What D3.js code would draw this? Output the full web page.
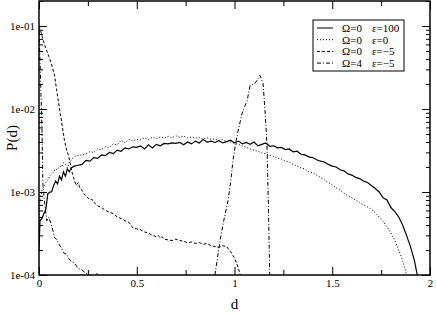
<!DOCTYPE html>
<html>
<head>
<meta charset="utf-8">
<script src="https://cdn.jsdelivr.net/npm/d3@7"></script>
<style>
  body { margin: 0; background: #fff; }
  svg { display: block; font-family: "Liberation Serif", "DejaVu Serif", serif; }
</style>
</head>
<body>
<div id="chart"></div>
<script>
// P(d) values in units of 1e-3
const solidEps100 = [
  [0,0.20],[0.005,0.45],[0.015,0.48],[0.025,0.55],[0.035,0.62],[0.045,0.95],[0.055,1.0],[0.065,1.0],
  [0.075,1.2],[0.085,1.35],[0.095,1.25],[0.105,1.55],[0.115,1.4],[0.125,1.75],[0.135,1.55],[0.145,1.9],
  [0.155,1.75],[0.165,1.95],[0.18,2.05],[0.20,2.1],[0.22,2.15],[0.24,2.4],[0.26,2.35],[0.28,2.6],
  [0.30,2.55],[0.32,2.8],[0.34,2.75],[0.36,3.0],[0.38,2.9],[0.40,3.2],[0.42,3.1],[0.44,3.4],
  [0.46,3.3],[0.48,3.5],[0.50,3.45],[0.52,3.6],[0.54,3.3],[0.56,3.7],[0.58,3.4],[0.60,3.75],
  [0.62,3.6],[0.64,3.85],[0.66,3.8],[0.68,3.9],[0.70,3.85],[0.72,3.95],[0.74,3.7],[0.76,4.0],
  [0.78,3.8],[0.80,4.1],[0.82,3.9],[0.84,4.3],[0.86,4.0],[0.88,4.1],[0.90,3.95],[0.92,4.15],
  [0.94,3.9],[0.96,4.05],[0.98,4.2],[1.00,3.9],[1.02,4.1],[1.04,3.8],[1.06,3.95],[1.08,3.75],
  [1.10,4.0],[1.12,3.6],[1.14,3.75],[1.16,3.9],[1.18,3.55],[1.20,3.6],[1.22,3.4],[1.24,3.45],
  [1.26,3.25],[1.28,3.3],[1.30,3.05],[1.32,3.1],[1.34,2.85],[1.36,2.8],[1.38,2.65],[1.40,2.6],
  [1.42,2.45],[1.44,2.35],[1.46,2.3],[1.48,2.15],[1.50,2.05],[1.52,2.0],[1.54,1.85],[1.56,1.8],
  [1.58,1.65],[1.60,1.6],[1.62,1.5],[1.64,1.45],[1.66,1.35],[1.68,1.3],[1.70,1.2],[1.72,1.1],
  [1.74,1.0],[1.76,0.85],[1.78,0.8],[1.80,0.65],[1.82,0.58],[1.84,0.5],[1.86,0.4],[1.88,0.3],
  [1.90,0.22],[1.92,0.15],[1.935,0.1]
];

const dottedEps0 = [
  [0,0.45],[0.005,0.8],[0.015,1.05],[0.025,1.15],[0.035,1.3],[0.045,1.4],[0.055,1.55],[0.065,1.65],
  [0.075,1.75],[0.085,1.9],[0.095,1.85],[0.105,2.05],[0.115,2.0],[0.125,2.25],[0.135,2.15],[0.145,1.95],
  [0.155,2.3],[0.165,2.4],[0.175,2.6],[0.185,2.7],[0.20,2.75],[0.22,2.8],[0.24,2.9],[0.26,3.05],
  [0.28,3.0],[0.30,3.3],[0.32,3.25],[0.34,3.5],[0.36,3.45],[0.38,3.8],[0.40,3.7],[0.42,4.2],
  [0.44,3.9],[0.46,4.3],[0.48,4.1],[0.50,4.3],[0.52,4.25],[0.54,4.5],[0.56,4.3],[0.58,4.55],
  [0.60,4.4],[0.62,4.6],[0.64,4.45],[0.66,4.7],[0.68,4.5],[0.70,4.75],[0.72,4.55],[0.74,4.7],
  [0.76,4.5],[0.78,4.6],[0.80,4.45],[0.82,4.55],[0.84,4.35],[0.86,4.5],[0.88,4.3],[0.90,4.35],
  [0.92,4.2],[0.94,4.25],[0.96,4.05],[0.98,4.0],[1.00,3.85],[1.02,3.75],[1.04,3.6],[1.06,3.45],
  [1.08,3.3],[1.10,3.2],[1.12,3.1],[1.14,2.95],[1.16,2.9],[1.18,2.75],[1.20,2.7],[1.22,2.55],
  [1.24,2.5],[1.26,2.35],[1.28,2.3],[1.30,2.15],[1.32,2.05],[1.34,1.95],[1.36,1.9],[1.38,1.75],
  [1.40,1.7],[1.42,1.6],[1.44,1.5],[1.46,1.4],[1.48,1.3],[1.50,1.22],[1.52,1.12],[1.54,1.05],
  [1.56,0.97],[1.58,0.9],[1.60,0.85],[1.62,0.8],[1.64,0.75],[1.66,0.7],[1.68,0.66],[1.70,0.62],
  [1.72,0.56],[1.74,0.5],[1.76,0.44],[1.78,0.38],[1.80,0.32],[1.82,0.26],[1.84,0.2],[1.86,0.15],
  [1.88,0.1]
];

const dashedEpsM5 = [
  [0,100],[0.01,85],[0.02,70],[0.03,58],[0.04,50],[0.05,43],[0.06,37],[0.07,31],[0.08,25],[0.09,17],
  [0.10,12],[0.11,8.5],[0.12,6],[0.13,4.2],[0.14,3.3],[0.15,2.8],[0.16,2.2],[0.17,1.7],[0.18,1.4],
  [0.19,1.2],[0.20,1.3],[0.21,1.1],[0.22,1.05],[0.23,0.95],[0.24,0.9],[0.25,0.85],[0.26,0.8],
  [0.27,0.82],[0.28,0.75],[0.29,0.72],[0.30,0.68],[0.32,0.65],[0.34,0.6],[0.36,0.57],[0.38,0.55],
  [0.40,0.5],[0.42,0.48],[0.44,0.45],[0.46,0.43],[0.48,0.37],[0.50,0.36],[0.52,0.35],[0.54,0.33],
  [0.56,0.32],[0.58,0.3],[0.60,0.29],[0.61,0.3],[0.62,0.28],[0.63,0.29],[0.64,0.27],[0.66,0.265],
  [0.68,0.26],[0.70,0.27],[0.72,0.26],[0.74,0.255],[0.76,0.245],[0.78,0.25],[0.80,0.24],[0.82,0.245],
  [0.84,0.235],[0.86,0.24],[0.88,0.225],[0.90,0.22],[0.92,0.215],[0.94,0.225],[0.96,0.22],[0.98,0.19],
  [1.00,0.16],[1.01,0.14],[1.02,0.12],[1.03,0.1]
];

// Omega=4: drops below the axis between the two parts (null = gap)
const dashDotOmega4 = [
  [0,90],[0.005,40],[0.01,15],[0.015,6],[0.02,1.2],[0.03,0.7],[0.04,0.45],[0.05,0.5],[0.06,0.42],
  [0.07,0.35],[0.08,0.28],[0.09,0.27],[0.10,0.24],[0.11,0.22],[0.12,0.2],[0.13,0.18],[0.14,0.18],
  [0.15,0.16],[0.16,0.15],[0.17,0.145],[0.18,0.14],[0.19,0.13],[0.20,0.12],[0.22,0.115],[0.24,0.105],
  [0.26,0.1],[0.28,0.097],[0.295,0.105],[0.30,0.1],
  [0.6,null],
  [0.90,0.1],[0.926,0.26],[0.945,0.45],[0.967,0.79],[0.98,1.3],[0.992,2.37],[1.005,3.8],[1.018,5.4],
  [1.038,8.7],[1.05,10.5],[1.064,12.4],[1.079,18.8],[1.09,19.5],[1.105,20.4],[1.12,23],[1.13,25.5],
  [1.146,20.4],[1.156,9.5],[1.166,3.8],[1.17,1.5],[1.174,0.6],[1.177,0.25],[1.18,0.1]
];

const xMajor = [0, 0.5, 1, 1.5, 2];
const xMinor = [0.25, 0.75, 1.25, 1.75];
const yMajor = [1e-4, 1e-3, 1e-2, 1e-1];

const legendRows = [
  { omega: 'Ω=0', eps: 'ε=100', dash: null },
  { omega: 'Ω=0', eps: 'ε=0', dash: '1,2' },
  { omega: 'Ω=0', eps: 'ε=−5', dash: '3,2' },
  { omega: 'Ω=4', eps: 'ε=−5', dash: '4,2,1,2' }
];

const width = 436, height = 314;
const pLeft = 39, pRight = 430, pTop = 1, pBottom = 275;

const svg = d3.select('#chart').append('svg')
  .attr('width', width).attr('height', height);

const x = d3.scaleLinear().domain([0, 2]).range([pLeft, pRight]);
const y = d3.scaleLog().domain([1e-4, 0.2]).range([pBottom, pTop]);

const yMinor = [];
for (let e = -4; e <= -1; e++) {
  for (let k = 2; k <= 9; k++) {
    const v = k * Math.pow(10, e);
    if (v <= 0.2) yMinor.push(v);
  }
}

const fmtY = d => '1e-0' + Math.round(-Math.log10(d));

// clip
svg.append('clipPath').attr('id', 'plot-clip')
  .append('rect').attr('x', pLeft).attr('y', pTop)
  .attr('width', pRight - pLeft).attr('height', pBottom - pTop);

const series = [
  { data: solidEps100, dash: null, w: 1.2 },
  { data: dottedEps0, dash: '1,2', w: 1 },
  { data: dashedEpsM5, dash: '3,2', w: 1 },
  { data: dashDotOmega4, dash: '4,2,1,2', w: 1 }
];

const line = d3.line()
  .defined(d => d[1] != null)
  .x(d => x(d[0]))
  .y(d => y(d[1] * 1e-3));

svg.append('g').attr('clip-path', 'url(#plot-clip)')
  .selectAll('path')
  .data(series)
  .enter().append('path')
    .attr('d', s => line(s.data))
    .attr('fill', 'none')
    .attr('stroke', '#000')
    .attr('stroke-width', s => s.w)
    .attr('stroke-dasharray', s => s.dash);

// axes
const styleAxis = g => {
  g.select('.domain').remove();
  g.selectAll('.tick line').attr('stroke', '#000').attr('stroke-width', 1);
  g.selectAll('.tick text').attr('fill', '#000').style('font-size', '11px')
    .style('font-family', '"Liberation Serif", serif');
};

svg.append('g').attr('transform', `translate(0,${pBottom})`)
  .call(d3.axisBottom(x).tickValues(xMajor).tickSize(-8).tickPadding(4)
    .tickFormat(d => d3.format('')(d)))
  .call(styleAxis);
svg.append('g').attr('transform', `translate(0,${pBottom})`)
  .call(d3.axisBottom(x).tickValues(xMinor).tickSize(-5).tickFormat(''))
  .call(styleAxis);
svg.append('g').attr('transform', `translate(0,${pTop})`)
  .call(d3.axisTop(x).tickValues(xMajor).tickSize(-8).tickFormat(''))
  .call(styleAxis);
svg.append('g').attr('transform', `translate(0,${pTop})`)
  .call(d3.axisTop(x).tickValues(xMinor).tickSize(-5).tickFormat(''))
  .call(styleAxis);

svg.append('g').attr('transform', `translate(${pLeft},0)`)
  .call(d3.axisLeft(y).tickValues(yMajor).tickSize(-8).tickPadding(4).tickFormat(fmtY))
  .call(styleAxis);
svg.append('g').attr('transform', `translate(${pLeft},0)`)
  .call(d3.axisLeft(y).tickValues(yMinor).tickSize(-4).tickFormat(''))
  .call(styleAxis);
svg.append('g').attr('transform', `translate(${pRight},0)`)
  .call(d3.axisRight(y).tickValues(yMajor).tickSize(-8).tickFormat(''))
  .call(styleAxis);
svg.append('g').attr('transform', `translate(${pRight},0)`)
  .call(d3.axisRight(y).tickValues(yMinor).tickSize(-4).tickFormat(''))
  .call(styleAxis);

// frame
svg.append('rect')
  .attr('x', pLeft).attr('y', pTop)
  .attr('width', pRight - pLeft).attr('height', pBottom - pTop)
  .attr('fill', 'none').attr('stroke', '#000').attr('stroke-width', 1.5);

// axis titles
svg.append('text')
  .attr('x', (pLeft + pRight) / 2).attr('y', 309)
  .attr('text-anchor', 'middle').style('font-size', '15px')
  .text('d');
svg.append('text')
  .attr('transform', `translate(17,${(pTop + pBottom) / 2}) rotate(-90)`)
  .attr('text-anchor', 'middle').style('font-size', '15px')
  .text('P(d)');

// legend
const lg = svg.append('g').attr('transform', 'translate(313,20)');
lg.append('rect').attr('width', 91).attr('height', 51)
  .attr('fill', '#fff').attr('stroke', '#000').attr('stroke-width', 1);
const row = lg.selectAll('.row').data(legendRows).enter().append('g')
  .attr('class', 'row')
  .attr('transform', (d, i) => `translate(0,${8 + i * 11.7})`);
row.append('line').attr('x1', 4).attr('x2', 20)
  .attr('stroke', '#000').attr('stroke-width', 1)
  .attr('stroke-dasharray', d => d.dash);
row.append('text').attr('x', 29).attr('y', 4).style('font-size', '11px').text(d => d.omega);
row.append('text').attr('x', 59).attr('y', 4).style('font-size', '11px').text(d => d.eps);
</script>
</body>
</html>
